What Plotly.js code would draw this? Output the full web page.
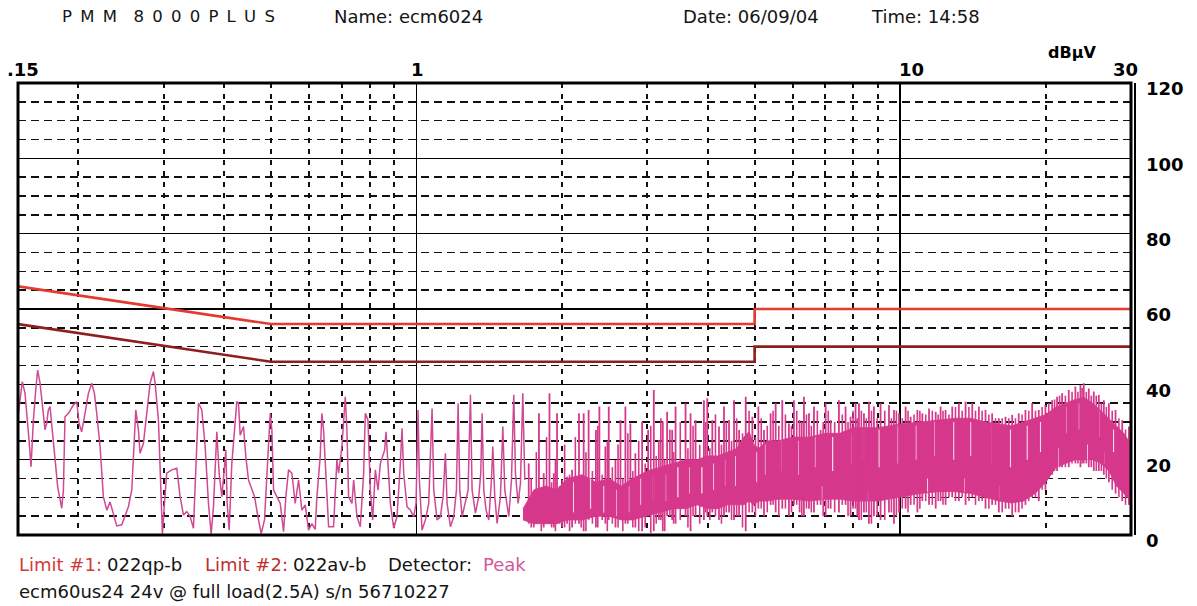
<!DOCTYPE html>
<html>
<head>
<meta charset="utf-8">
<script src="https://cdn.plot.ly/plotly-3.0.1.min.js"></script>
<style>
html,body{margin:0;padding:0;background:#fff;}
#chart{width:1197px;height:606px;}
</style>
</head>
<body>
<div id="chart"></div>
<script>
// ---------------- DATA ----------------
// Limit #1 (022qp-b) and Limit #2 (022av-b), MHz / dBµV
const limit1Freq = [0.15, 0.5, 5, 5, 30];
const limit1Val  = [66, 56, 56, 60, 60];
const limit2Freq = [0.15, 0.5, 5, 5, 30];
const limit2Val  = [56, 46, 46, 50, 50];

// Peak detector trace, low-frequency part (MHz)
const peakFreq = [
0.150,0.1531,0.1551,0.1571,0.1581,0.1596,0.1614,0.1632,0.1647,0.1666,0.1684,0.1706,0.1719,0.1733,0.1747,0.1761,0.1783,0.1812,0.1847,0.1862,
0.1876,0.1907,0.1952,0.1984,0.2006,0.2031,0.2064,0.2097,0.2131,0.2158,0.2182,0.2217,0.2252,0.2289,0.2325,0.2362,0.2400,0.2458,0.2497,0.2537,
0.2578,0.2611,0.2628,0.2661,0.2682,0.2725,0.2769,0.2813,0.2858,0.2881,0.2927,0.2960,0.2983,0.3012,0.3045,0.3119,0.3194,0.3245,0.3297,0.3350,
0.3404,0.3458,0.3514,0.3542,0.3598,0.3656,0.3714,0.3762,0.3804,0.3834,0.3865,0.3908,0.3958,0.4009,0.4034,0.4060,0.4099,0.4151,0.4204,0.4251,
0.4285,0.4319,0.4388,0.4437,0.4494,0.4566,0.4625,0.4699,0.4774,0.4850,0.4928,0.4983,0.5023,0.5063,0.5144,0.5226,0.5310,0.5369,0.5438,0.5525,
0.5613,0.5703,0.5794,0.5887,0.5981,0.6077,0.6174,0.6223,0.6322,0.6373,0.6424,0.6476,0.6527,0.6580,0.6737,0.6791,0.6846,0.6901,0.7011,0.7123,
0.7180,0.7237,0.7354,0.7413,0.7531,0.7652,0.7775,0.7837,0.7937,0.8026,0.8116,0.8220,0.8325,0.8418,0.8512,0.8593,0.8648,0.8731,0.8829,0.8970,
0.9113,0.9259,0.9333,0.9407,0.9558,0.9712,0.9867,0.9977,1.0073,1.0137,1.0267,1.0431,1.0598,1.0768,1.0854,1.1028,1.1205,1.1348,1.1475,1.1566,
1.1751,1.1940,1.2092,1.2189,1.2286,1.2423,1.2622,1.2783,1.2926,1.3029,1.3238,1.3450,1.3578,1.3665,1.3774,1.3927,1.4106,1.4286,1.4377,1.4514,
1.4676,1.4912,1.5079,1.5223,1.5515,1.5713,1.5889,1.6015,1.6220,1.6401,1.6585,1.6744
];
const peakVal = [
31.5,40.7,37.6,30.5,25.2,18.1,30.5,38.5,43.8,40.3,34.1,27.9,29.6,33.2,34.1,29.6,20.8,12.8,7.1,11.9,
31.4,32.3,34.5,35.4,29.6,27.4,32.3,37.6,40.3,37.6,32.3,23.5,10.2,6.6,8.8,5.8,2.4,2.7,4.9,7.5,
11.9,24.3,33.2,27.9,21.7,24.3,33.2,40.3,43.4,40.3,30.5,14.6,0.3,8.4,16.4,17.3,17.7,10.2,5.3,6.2,
4.9,1.8,25.2,35.0,33.2,23.5,8.4,0.3,7.5,19.0,27.4,16.4,10.2,18.1,22.6,8.4,1.3,19.0,27.0,35.4,
35.0,26.5,28.8,20.8,14.6,11.9,10.2,4.9,0.4,4.0,19.0,32.3,27.9,11.9,10.2,8.4,0.9,10.2,17.3,16.4,
8.4,14.6,6.6,8.0,1.3,3.0,1.5,10.0,20.8,32.3,27.9,19.0,8.4,2.2,2.2,11.9,19.9,16.4,23.5,36.7,
27.9,10.2,8.4,14.6,4.9,2.2,16.4,32.3,30.5,11.9,4.0,17.3,11.9,19.0,20.8,22.6,27.4,19.0,8.4,1.8,
4.9,19.0,28.3,16.4,7.5,6.6,4.9,8.4,33.2,14.6,1.3,4.0,8.4,33.6,11.9,4.0,4.9,10.2,21.7,8.4,
2.2,4.9,11.9,35.0,11.9,4.9,8.4,11.9,37.2,11.9,5.8,10.2,16.4,32.3,11.9,6.6,4.0,14.6,23.5,10.2,
3.1,10.2,28.8,11.9,4.9,14.6,37.2,16.4,8.4,13.7,37.6,14.6
];

// Dense part of the peak trace: solid band (upper / lower envelope)
const bandFreq = [1.66,1.75,1.85,1.95,2.05,2.2,2.35,2.5,2.65,2.8,3.0,3.2,3.4,3.6,3.8,4.0,4.2,4.4,4.6,4.75,4.87,4.98,5.1,5.3,5.6,6.0,6.5,7.0,7.5,8.0,8.5,9.0,9.5,10,11,12,13,14,15,16,17,18,19,20,21,22,23,24,25,26,27,28,29,30];
const bandHi   = [7,12,13,12,15,16,14,15,13,15,17,18,19,20,20,21,21,22,23,26,27.5,24,23,25,25,26,26,27,27,28.5,28.5,28.5,29,29.5,30,30.5,31,31,30,29.5,29,30,31,32,34,35,36,36.5,35,33,31,29,27,24];
const bandLo   = [4,3,3,3,4,4,5,5,4,4,5,6,7,7,8,7,7,8,8,8,9,8,9,9,9.5,9.5,9,9.5,9.5,9,9,9,9.5,10,11,11.5,11.5,11,10,9,8.5,9,11,14,18,19,20,20,20,19,17,13,11,9];

// Tall individual peaks rising out of the dense part
const spikeFreq = [1.706,1.747,1.791,1.832,1.883,1.922,1.952,2.001,2.048,2.097,2.167,2.216,2.269,2.349,2.388,2.457,2.497,2.578,2.640,2.703,
2.768,2.834,2.927,3.012,3.094,3.169,3.230,3.297,3.377,3.432,3.599,3.686,3.775,3.928,3.991,4.088,4.220,4.322,4.427,4.534,
4.644,4.793,4.947,5.090,5.228,5.396,5.527,5.704,5.887,6.029,6.194,6.323,6.476,6.633,6.847,7.012,7.181,7.469,7.709,7.894,
8.084,8.217,8.414,8.617,8.824,9.107,9.479,9.708,9.942,10.26,10.51,10.85,11.11,11.47,11.84,12.12,12.41,12.81,13.22,13.65,
14.09,14.54,15.01,15.49,15.99,16.51,17.04,17.58,18.15,18.74,19.34,19.96,20.61,21.10,21.61,22.31,23.02,23.58,23.96,24.54,
25.13,25.74,26.36,27.00,27.87,28.77,29.70];
const spikeTop = [19.0,11.9,32.3,16.4,37.6,16.4,32.3,14.6,15.5,17.3,32.3,32.3,33.2,27.9,34.1,23.5,34.1,19.9,30.5,34.1,
29.6,21.7,30.1,27.9,38.5,25.2,30.1,32.7,27.9,34.1,35.0,32.3,30.5,35.8,36.3,30.5,28.8,34.1,30.5,35.8,
27.9,36.7,31.4,34.1,27.9,32.3,35.0,35.8,29.6,35.8,30.5,36.7,32.3,34.1,27.9,35.0,30.5,35.8,34.1,31.4,
35.0,35.0,32.3,35.4,34.1,35.0,34.5,33.2,32.3,34.1,31.4,33.2,32.3,33.6,32.7,34.1,33.2,34.1,35.0,35.4,
35.0,34.1,33.2,32.3,31.0,31.4,31.9,32.3,33.2,35.0,33.2,34.5,35.8,36.7,37.6,38.5,39.4,39.8,40.3,38.9,
38.1,37.2,35.8,35.0,33.2,30.5,28.8];
const spikeBot = [3,2,4,2,3,2,4,2,3,2,3,1,4,2,5,3,4,2,5,3,
4,2,1,5,1,4,1,5,4,3,5,1,5,4,5,6,4,5,6,4,
5,1,6,7,5,8,6,7,5,8,6,5,7,6,8,5,7,6,8,5,
7,4,6,3,5,4,6,3,6,7,8,6,9,8,7,9,8,10,9,8,
10,9,7,8,6,7,5,6,8,10,9,12,16,17,18,18,19,18,19,18,
17,17,16,14,11,9,8];

// Smaller peaks between the tall ones
const midFreq = [1.726,1.769,1.811,1.857,1.902,1.937,1.976,2.024,2.072,2.13,2.19,2.24,2.31,2.37,2.42,2.48,2.54,2.61,2.67,2.735,
2.80,2.88,2.97,3.05,3.13,3.20,3.26,3.34,3.40,3.51,3.64,3.73,3.85,3.96,4.04,4.15,4.27,4.37,4.48,4.59,
4.72,4.87,5.02,5.16,5.31,5.46,5.61,5.79,5.96,6.11,6.26,6.40,6.55,6.74,6.93,7.10,7.32,7.59,7.80,7.99,
8.15,8.31,8.51,8.72,8.96,9.29,9.59,9.82,10.10,10.38,10.68,10.98,11.29,11.65,11.98,12.26,12.61,13.01,13.43,13.87,
14.31,14.77,15.25,15.74,16.25,16.77,17.31,17.86,18.44,19.04,19.65,20.28,20.85,21.35,21.95,22.66,23.30,23.77,24.25,24.83,
25.43,26.05,26.68,27.43,28.32,29.23];
const midTop = [15,22,12,26,14,20,13,24,16,26,14,22,17,29,16,25,18,24,15,27,
17,25,19,29,21,31,20,28,22,30,23,29,24,30,23,32,24,30,25,31,
27,33,26,31,29,33,29,32,29,33,30,32,29,33,30,33,30,32,30,33,
31,33,31,33,31,33,31,33,31,33,32,33,32,33,32,33,32,34,33,34,
33,33,32,31,31,31,31,32,33,33,34,35,36,37,37,38,38,39,38,37,
37,35,34,33,31,28];
const midBot = [2,3,1,3,2,1,3,2,1,3,2,1,3,2,4,1,3,2,1,3,
2,1,2,0.5,3,4,1,5,3,4,2,5,3,6,4,5,3,6,4,5,
2,6,5,7,6,8,5,7,6,8,5,7,6,8,5,7,6,8,5,7,
5,4,6,3,5,4,6,5,7,6,8,7,9,8,9,8,10,9,10,9,
8,9,7,8,6,7,6,7,9,10,12,15,17,18,18,19,19,19,19,18,
17,17,15,12,10,8];

// Light gaps inside the dense part
const gapFreq = [2.11,2.29,2.44,2.59,2.75,2.91,3.09,3.28,3.47,3.67,3.89,4.11,4.34,4.57,5.05,5.25,5.70,6.17,6.66,7.25,
7.90,8.40,9.05,9.90,10.8,11.8,12.9,14.0,15.5,16.9,18.3,19.5,22.0,23.4,25.8,27.6,6.9,8.6,11.4,13.6,
16.0,21.2,24.4,26.4];
const gapTop = [14,15,13,12,13,15,16,16,18,18,18,19,20,21,22,24,25,25,26,26,
27,28,28,29,29,30,30,30,29,28,29,30,34,35,33,28,13,12,15,15,
13,23,24,22];
const gapBot = [6,7,6,5,6,8,9,9,10,11,11,12,13,13,14,16,17,16,18,17,
19,20,18,19,20,21,20,21,19,18,20,22,27,28,26,22,9.5,9,11.5,11.5,
9.5,18,20,19];

// Grid / tick values
const majorFreqTicks = [1, 10];
const minorFreqTicks = [0.2,0.3,0.4,0.5,0.6,0.7,0.8,0.9,2,3,4,5,6,7,8,9,20];
const freqLabelVals  = [0.15, 1, 10, 30];
const freqLabelText  = ['.15', '1', '10', '30'];

// ---------------- STYLE ----------------
const PINK = '#d6388c';
const RED = '#e23b30';
const DARKRED = '#8e1f1f';
const TXT = '#141414';
const FONT = 'DejaVu Sans';

function segs(fs, lo, hi) {
  const X = [], Y = [];
  fs.forEach((f, i) => { X.push(f, f, null); Y.push(lo[i], hi[i], null); });
  return {X, Y};
}
const bandX = bandFreq.concat(bandFreq.slice().reverse());
const bandY = bandHi.concat(bandLo.slice().reverse());
const sp = segs(spikeFreq, spikeBot, spikeTop);
const md = segs(midFreq, midBot, midTop);
const gp = segs(gapFreq, gapBot, gapTop);

const traces = [
  {x: bandX, y: bandY, type: 'scatter', mode: 'lines', fill: 'toself', fillcolor: PINK,
   line: {width: 0.8, color: PINK}, hoverinfo: 'skip', showlegend: false},
  {x: gp.X, y: gp.Y, type: 'scatter', mode: 'lines', line: {width: 1.3, color: '#f6dcea'},
   connectgaps: false, hoverinfo: 'skip', showlegend: false},
  {x: md.X, y: md.Y, type: 'scatter', mode: 'lines', line: {width: 1.6, color: PINK},
   connectgaps: false, hoverinfo: 'skip', showlegend: false},
  {x: sp.X, y: sp.Y, type: 'scatter', mode: 'lines', line: {width: 1.8, color: PINK},
   connectgaps: false, hoverinfo: 'skip', showlegend: false},
  {x: peakFreq, y: peakVal, type: 'scatter', mode: 'lines', line: {width: 1.5, color: '#cf4a93'},
   showlegend: false},
  {x: limit1Freq, y: limit1Val, type: 'scatter', mode: 'lines', line: {width: 2.6, color: RED}, showlegend: false},
  {x: limit2Freq, y: limit2Val, type: 'scatter', mode: 'lines', line: {width: 2.6, color: DARKRED}, showlegend: false}
];

const ann = [];
const labelShift = [5, 1, 11, -6];
freqLabelVals.forEach((v, i) => {
  ann.push({x: Math.log10(v), xref: 'x', y: 1, yref: 'paper', yanchor: 'bottom', xanchor: 'center',
    xshift: labelShift[i], yshift: 1, showarrow: false, text: freqLabelText[i],
    font: {family: FONT, size: 18, color: '#000', weight: 'bold'}});
});
ann.push({x: 0.947, xref: 'paper', y: 1.068, yref: 'paper', xanchor: 'center', yanchor: 'middle', showarrow: false,
  text: 'dBµV', font: {family: FONT, size: 16, color: '#000', weight: 'bold'}});

function txt(x, y, t, color, size) {
  ann.push({x: x, xref: 'paper', y: y, yref: 'paper', xanchor: 'left', yanchor: 'middle', showarrow: false,
    text: t, font: {family: FONT, size: size || 18, color: color || TXT}});
}
const E = '\u2002';
txt(0.0375, 1.148, ['P','M','M'].join(E) + E + E + ['8','0','0','0','P','L','U','S'].join(E), TXT, 16.5);
txt(0.282, 1.148, 'Name: ecm6024');
txt(0.596, 1.148, 'Date: 06/09/04');
txt(0.765, 1.148, 'Time: 14:58');
txt(-0.001, -0.066, 'Limit #1:', '#d23a3a');
txt(0.0785, -0.066, '022qp-b');
txt(0.166, -0.066, 'Limit #2:', '#c03030');
txt(0.2455, -0.066, '022av-b');
txt(0.3305, -0.066, 'Detector:');
txt(0.416, -0.066, 'Peak', '#d2579b');
txt(-0.001, -0.126, 'ecm60us24 24v @ full load(2.5A) s/n 56710227');

const layout = {
  width: 1197, height: 606,
  margin: {l: 18, r: 66, t: 83, b: 71},
  paper_bgcolor: '#fff', plot_bgcolor: '#fff',
  showlegend: false,
  xaxis: {
    type: 'log', range: [Math.log10(0.15), Math.log10(30)],
    tickmode: 'array', tickvals: majorFreqTicks, showticklabels: false, ticks: '',
    showgrid: true, gridcolor: '#000', gridwidth: 1.5, zeroline: false, showline: false,
    minor: {tickmode: 'array', tickvals: minorFreqTicks, showgrid: true, gridcolor: '#111', gridwidth: 2, griddash: '5px,6px', ticks: ''}
  },
  yaxis: {
    range: [0, 120], side: 'right', tick0: 0, dtick: 20, ticks: '',
    tickfont: {family: FONT, size: 18, color: '#000', weight: 'bold'},
    ticklabelstandoff: 14, ticklabelshift: 6,
    showgrid: true, gridcolor: '#000', gridwidth: 1.5, zeroline: false, showline: false,
    minor: {dtick: 5, showgrid: true, gridcolor: '#111', gridwidth: 1.5, griddash: '8px,5px', ticks: ''}
  },
  shapes: [
    {type: 'rect', xref: 'paper', yref: 'paper', x0: 0, x1: 1, y0: 0, y1: 1, line: {color: '#000', width: 3}},
    {type: 'line', xref: 'paper', yref: 'paper', xsizemode: 'pixel', xanchor: 1, x0: 4, x1: 4, y0: 0, y1: 1, line: {color: '#000', width: 2}}
  ],
  annotations: ann
};

Plotly.newPlot('chart', traces, layout, {staticPlot: true, displayModeBar: false});
</script>
</body>
</html>
